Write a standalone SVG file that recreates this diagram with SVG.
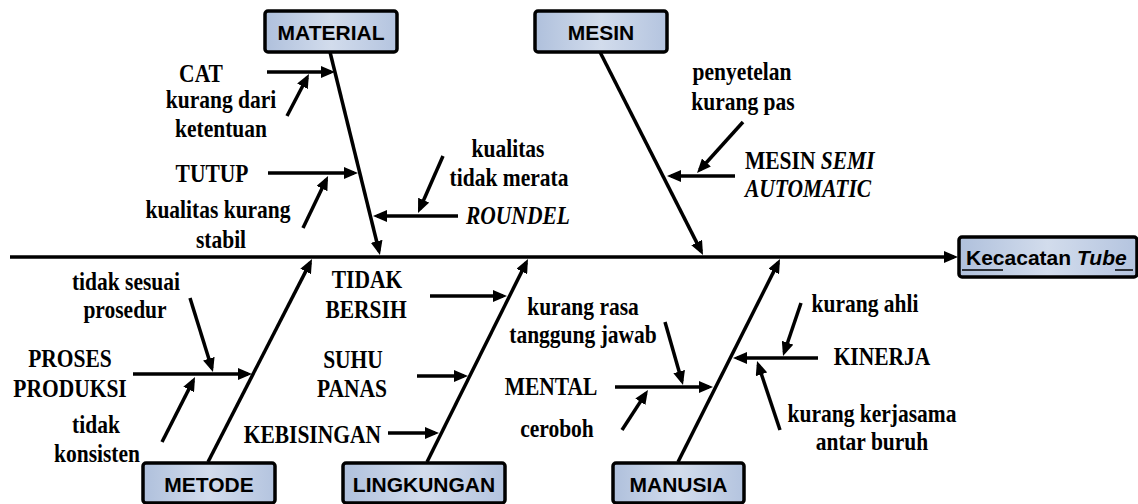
<svg xmlns="http://www.w3.org/2000/svg" width="1138" height="504" viewBox="0 0 1138 504">
<style>
.t{font-family:"Liberation Serif","Times New Roman",serif;font-weight:bold;font-size:21.5px;fill:#000;text-anchor:middle}
.bx{fill:url(#g);stroke:#000;stroke-width:3.5}
.bt{font-family:"Liberation Sans",Arial,sans-serif;font-weight:bold;font-size:21px;fill:#000;text-anchor:middle}
.ln{stroke:#000;stroke-width:3.5;fill:none;marker-end:url(#ah)}
.s{text-anchor:start}
.e{text-anchor:end}
.i{font-style:italic}
</style>
<defs>
<linearGradient id="g" x1="0" y1="0" x2="1" y2="0">
<stop offset="0" stop-color="#afc0dc"/>
<stop offset="0.5" stop-color="#d2dcec"/>
<stop offset="1" stop-color="#b4c4df"/>
</linearGradient>
<marker id="ah" markerUnits="userSpaceOnUse" markerWidth="14" markerHeight="12" refX="10" refY="6" orient="auto">
<path d="M0,0 L14,6 L0,12 z" fill="#000"/>
</marker>
</defs>
<rect width="1138" height="504" fill="#fff"/>

<g id="connectors">
<line class="ln" x1="10" y1="257" x2="954" y2="257"/>
<line class="ln" x1="330" y1="52" x2="379" y2="251"/>
<line class="ln" x1="600" y1="52" x2="701.2" y2="251.4"/>
<line class="ln" x1="208" y1="462" x2="310.2" y2="262.6"/>
<line class="ln" x1="427" y1="462" x2="526.2" y2="262.6"/>
<line class="ln" x1="678" y1="462" x2="778.2" y2="262.6"/>
<line class="ln" x1="267" y1="72" x2="331" y2="72"/>
<line class="ln" x1="268" y1="173" x2="354" y2="173"/>
<line class="ln" x1="458" y1="216" x2="377" y2="216"/>
<line class="ln" x1="735" y1="176" x2="671" y2="176"/>
<line class="ln" x1="133" y1="374" x2="248" y2="374"/>
<line class="ln" x1="430" y1="296" x2="503" y2="296"/>
<line class="ln" x1="417" y1="376" x2="464" y2="376"/>
<line class="ln" x1="388" y1="433" x2="435" y2="433"/>
<line class="ln" x1="615" y1="387" x2="709" y2="387"/>
<line class="ln" x1="818" y1="358" x2="737" y2="358"/>
<line class="ln" x1="287" y1="116" x2="307.1" y2="77.5"/>
<line class="ln" x1="303" y1="228" x2="326.3" y2="179.6"/>
<line class="ln" x1="443" y1="156" x2="419.6" y2="209.3"/>
<line class="ln" x1="743" y1="122" x2="699.7" y2="170"/>
<line class="ln" x1="190" y1="298" x2="211.8" y2="368.2"/>
<line class="ln" x1="162" y1="442" x2="193.2" y2="380.6"/>
<line class="ln" x1="665" y1="322" x2="681.9" y2="381.2"/>
<line class="ln" x1="622" y1="430" x2="645.8" y2="393.4"/>
<line class="ln" x1="801" y1="303" x2="784.3" y2="352.2"/>
<line class="ln" x1="780" y1="430" x2="758.3" y2="364.8"/>
</g>

<g id="node-material"><rect class="bx" x="265" y="11" width="132" height="41" rx="3"/><text class="bt" x="331" y="40">MATERIAL</text></g>
<g id="node-mesin"><rect class="bx" x="535" y="11" width="132" height="41" rx="3"/><text class="bt" x="601" y="40">MESIN</text></g>
<g id="node-metode"><rect class="bx" x="143" y="463" width="132" height="40" rx="3"/><text class="bt" x="209" y="492">METODE</text></g>
<g id="node-lingkungan"><rect class="bx" x="343" y="463" width="162" height="40" rx="3"/><text class="bt" x="424" y="492">LINGKUNGAN</text></g>
<g id="node-manusia"><rect class="bx" x="613" y="463" width="131" height="40" rx="3"/><text class="bt" x="678.5" y="492">MANUSIA</text></g>
<g id="node-effect"><rect class="bx" x="959" y="237" width="178" height="40" rx="3"/><text class="bt s" x="966" y="265">Kecacatan <tspan class="i">Tube</tspan></text><line x1="962" y1="270" x2="1003" y2="270" stroke="#000" stroke-width="1.5"/><line x1="1115" y1="270" x2="1133" y2="270" stroke="#000" stroke-width="1.5"/></g>

<g id="causes-material">
<text class="t" transform="translate(201,82) scale(1,1.2)">CAT</text>
<text class="t" transform="translate(221,108) scale(1,1.2)">kurang dari</text>
<text class="t" transform="translate(221,137) scale(1,1.2)">ketentuan</text>
<text class="t" transform="translate(212,182) scale(1,1.2)">TUTUP</text>
<text class="t" transform="translate(218,218) scale(1,1.2)">kualitas kurang</text>
<text class="t" transform="translate(221,248) scale(1,1.2)">stabil</text>
<text class="t" transform="translate(508,157) scale(1,1.2)">kualitas</text>
<text class="t" transform="translate(509,186) scale(1,1.2)">tidak merata</text>
<text class="t s i" transform="translate(466,224) scale(1,1.2)">ROUNDEL</text>
</g>
<g id="causes-mesin">
<text class="t" transform="translate(742,80) scale(1,1.2)">penyetelan</text>
<text class="t" transform="translate(743,110) scale(1,1.2)">kurang pas</text>
<text class="t s" transform="translate(745,169) scale(1,1.2)">MESIN <tspan class="i">SEMI</tspan></text>
<text class="t s i" transform="translate(745,197) scale(1,1.2)">AUTOMATIC</text>
</g>
<g id="causes-metode">
<text class="t" transform="translate(126,290) scale(1,1.2)">tidak sesuai</text>
<text class="t" transform="translate(125,318) scale(1,1.2)">prosedur</text>
<text class="t" transform="translate(70,367) scale(1,1.2)">PROSES</text>
<text class="t" transform="translate(70,397) scale(1,1.2)">PRODUKSI</text>
<text class="t" transform="translate(96,433) scale(1,1.2)">tidak</text>
<text class="t" transform="translate(97,462) scale(1,1.2)">konsisten</text>
</g>
<g id="causes-lingkungan">
<text class="t" transform="translate(367,288) scale(1,1.2)">TIDAK</text>
<text class="t" transform="translate(366,318) scale(1,1.2)">BERSIH</text>
<text class="t" transform="translate(353,368) scale(1,1.2)">SUHU</text>
<text class="t" transform="translate(352,397) scale(1,1.2)">PANAS</text>
<text class="t e" transform="translate(381,443) scale(1,1.2)">KEBISINGAN</text>
</g>
<g id="causes-manusia">
<text class="t" transform="translate(583,315) scale(1,1.2)">kurang rasa</text>
<text class="t" transform="translate(583,343) scale(1,1.2)">tanggung jawab</text>
<text class="t" transform="translate(551,395) scale(1,1.2)">MENTAL</text>
<text class="t" transform="translate(557,437) scale(1,1.2)">ceroboh</text>
<text class="t" transform="translate(865,312) scale(1,1.2)">kurang ahli</text>
<text class="t" transform="translate(882,365) scale(1,1.2)">KINERJA</text>
<text class="t" transform="translate(872,422) scale(1,1.2)">kurang kerjasama</text>
<text class="t" transform="translate(872,450) scale(1,1.2)">antar buruh</text>
</g>
</svg>
